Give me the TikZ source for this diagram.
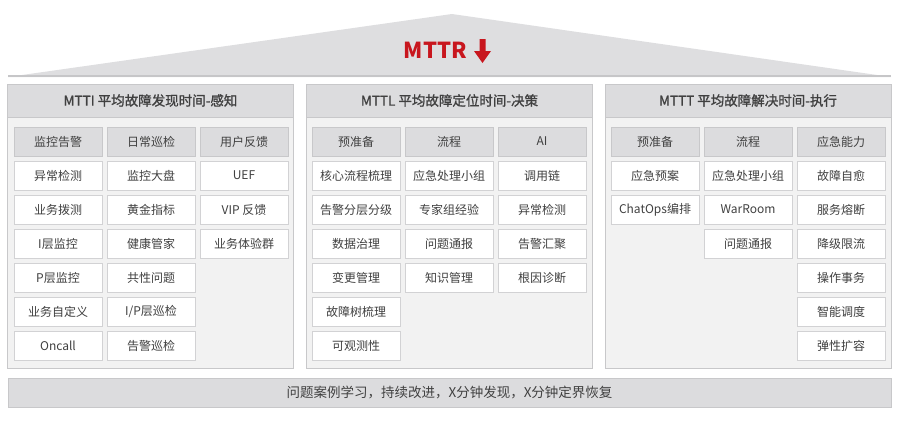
\documentclass[tikz,border=0pt]{standalone}
\usepackage{fontspec}
\setmainfont{Noto Sans CJK SC}
\newfontfamily\semibold[FakeBold=1.2]{Noto Sans CJK SC}
\usepackage[HTML]{xcolor}
\usepackage{tikz}
\usetikzlibrary{positioning}

\definecolor{roofgray}{HTML}{DEDEE0}
\definecolor{roofline}{HTML}{C6C6C8}
\definecolor{headgray}{HTML}{DCDCDE}
\definecolor{headline}{HTML}{C8C8CA}
\definecolor{bodygray}{HTML}{F2F2F2}
\definecolor{cellline}{HTML}{D2D2D4}
\definecolor{txtgray}{HTML}{404040}
\definecolor{mttrred}{HTML}{C8161E}

\begin{document}
\begin{tikzpicture}[x=1pt, y=-1pt, node distance=5pt, % 1px = 1pt, y grows downwards like the screenshot
    cell/.style={draw=cellline, fill=white, line width=0.8pt, outer sep=0pt, inner sep=0pt,
                 minimum width=88pt, minimum height=29pt, font=\fontsize{12}{14}\selectfont, text=txtgray},
    headcell/.style={cell, fill=headgray, draw=headline},
    panel/.style={draw=headline, fill=bodygray, line width=0.8pt, outer sep=0pt,
                  minimum width=286pt, minimum height=284pt},
    panelhead/.style={draw=headline, fill=headgray, line width=0.8pt, outer sep=0pt, anchor=north,
                      minimum width=286pt, minimum height=33pt, font=\semibold\fontsize{13.5}{16}\selectfont, text=txtgray},
    bar/.style={draw=headline, fill=headgray, line width=0.8pt, minimum width=883pt, minimum height=29pt,
                font=\fontsize{13.5}{16}\selectfont, text=txtgray}]

    \useasboundingbox (0,0) rectangle (915,431);

    % 1. Roof with MTTR
    \fill[roofgray] (8,77) -- (452,14) -- (891,77) -- cycle;
    \draw[roofline, line width=2pt] (8,76) -- (891,76);
    \node[font=\fontsize{22}{26}\selectfont\bfseries, text=mttrred, inner sep=0pt] (mttr) at (435.5,50) {MTTR};
    % down arrow next to MTTR
    \fill[mttrred] (479.5,39) -- (485.5,39) -- (485.5,51) -- (491,51) -- (482.5,63) -- (474,51) -- (479.5,51) -- cycle;

    % 2. Panels
    \node[panel] (pI) at (150.5,226) {};
    \node[panelhead] (tI) at (pI.north) {MTTI 平均故障发现时间-感知};
    \node[panel] (pL) at (449.5,226) {};
    \node[panelhead] (tL) at (pL.north) {MTTL 平均故障定位时间-决策};
    \node[panel] (pT) at (748,226) {};
    \node[panelhead] (tT) at (pT.north) {MTTT 平均故障解决时间-执行};

    % 3. MTTI cells
    \node[headcell] (iA) at (58,141.5) {监控告警};
    \node[headcell, right=of iA] (iB) {日常巡检};
    \node[headcell, right=of iB] (iC) {用户反馈};
    \node[cell, below=of iA] (iA1) {异常检测};
    \node[cell, below=of iA1] (iA2) {业务拨测};
    \node[cell, below=of iA2] (iA3) {I层监控};
    \node[cell, below=of iA3] (iA4) {P层监控};
    \node[cell, below=of iA4] (iA5) {业务自定义};
    \node[cell, below=of iA5] (iA6) {Oncall};
    \node[cell, below=of iB] (iB1) {监控大盘};
    \node[cell, below=of iB1] (iB2) {黄金指标};
    \node[cell, below=of iB2] (iB3) {健康管家};
    \node[cell, below=of iB3] (iB4) {共性问题};
    \node[cell, below=of iB4] (iB5) {I/P层巡检};
    \node[cell, below=of iB5] (iB6) {告警巡检};
    \node[cell, below=of iC] (iC1) {UEF};
    \node[cell, below=of iC1] (iC2) {VIP 反馈};
    \node[cell, below=of iC2] (iC3) {业务体验群};

    % 4. MTTL cells
    \node[headcell] (lA) at (356,141.5) {预准备};
    \node[headcell, right=of lA] (lB) {流程};
    \node[headcell, right=of lB] (lC) {AI};
    \node[cell, below=of lA] (lA1) {核心流程梳理};
    \node[cell, below=of lA1] (lA2) {告警分层分级};
    \node[cell, below=of lA2] (lA3) {数据治理};
    \node[cell, below=of lA3] (lA4) {变更管理};
    \node[cell, below=of lA4] (lA5) {故障树梳理};
    \node[cell, below=of lA5] (lA6) {可观测性};
    \node[cell, below=of lB] (lB1) {应急处理小组};
    \node[cell, below=of lB1] (lB2) {专家组经验};
    \node[cell, below=of lB2] (lB3) {问题通报};
    \node[cell, below=of lB3] (lB4) {知识管理};
    \node[cell, below=of lC] (lC1) {调用链};
    \node[cell, below=of lC1] (lC2) {异常检测};
    \node[cell, below=of lC2] (lC3) {告警汇聚};
    \node[cell, below=of lC3] (lC4) {根因诊断};

    % 5. MTTT cells
    \node[headcell] (tA) at (655,141.5) {预准备};
    \node[headcell, right=of tA] (tB) {流程};
    \node[headcell, right=of tB] (tC) {应急能力};
    \node[cell, below=of tA] (tA1) {应急预案};
    \node[cell, below=of tA1] (tA2) {ChatOps编排};
    \node[cell, below=of tB] (tB1) {应急处理小组};
    \node[cell, below=of tB1] (tB2) {WarRoom};
    \node[cell, below=of tB2] (tB3) {问题通报};
    \node[cell, below=of tC] (tC1) {故障自愈};
    \node[cell, below=of tC1] (tC2) {服务熔断};
    \node[cell, below=of tC2] (tC3) {降级限流};
    \node[cell, below=of tC3] (tC4) {操作事务};
    \node[cell, below=of tC4] (tC5) {智能调度};
    \node[cell, below=of tC5] (tC6) {弹性扩容};

    % 6. Bottom bar
    \node[bar] (base) at (449.5,392.5) {问题案例学习，持续改进，X分钟发现，X分钟定界恢复};

\end{tikzpicture}
\end{document}
